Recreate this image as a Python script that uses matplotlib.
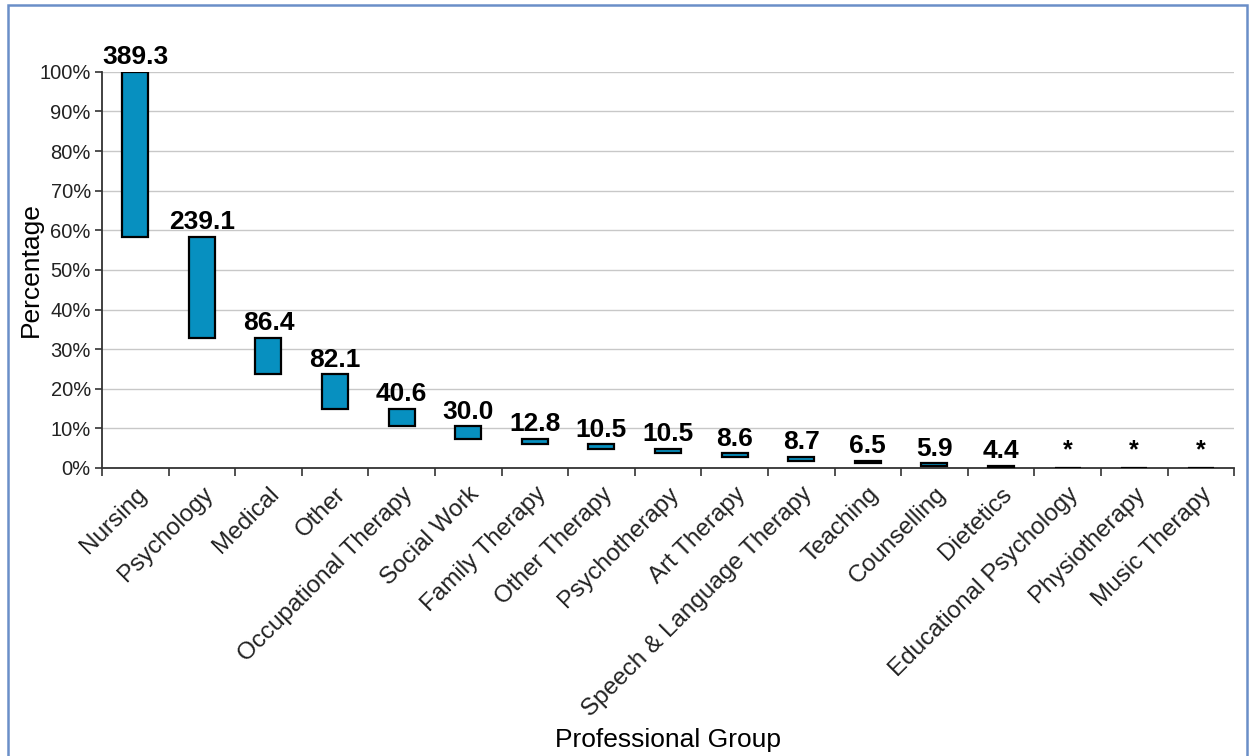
import matplotlib.pyplot as plt
import numpy as np
from matplotlib.patches import Rectangle

plt.rcParams['font.family'] = ['Liberation Sans', 'DejaVu Sans']

# professional groups and their values (the last three are suppressed, shown as *)
groups = ["Nursing", "Psychology", "Medical", "Other", "Occupational Therapy",
          "Social Work", "Family Therapy", "Other Therapy", "Psychotherapy",
          "Art Therapy", "Speech & Language Therapy", "Teaching", "Counselling",
          "Dietetics", "Educational Psychology", "Physiotherapy", "Music Therapy"]
values = [389.3, 239.1, 86.4, 82.1, 40.6, 30.0, 12.8, 10.5, 10.5, 8.6, 8.7,
          6.5, 5.9, 4.4, 0.3, 0.2, 0.0]
labels = ["389.3", "239.1", "86.4", "82.1", "40.6", "30.0", "12.8", "10.5",
          "10.5", "8.6", "8.7", "6.5", "5.9", "4.4", "*", "*", "*"]

vals = np.array(values)
share = vals / vals.sum()
tops = 1 - np.concatenate([[0], np.cumsum(share)[:-1]])
bottoms = tops - share

fig = plt.figure(figsize=(12.51, 7.56), dpi=100)
ax = fig.add_axes([0.0815, 0.381, 0.905, 0.524])

x = np.arange(len(groups))
ax.bar(x, share, bottom=bottoms, width=0.39, color="#0790C0",
       edgecolor="black", linewidth=1.6, zorder=3)

for xi, t, lab in zip(x, tops, labels):
    if lab == "*":
        ax.annotate(lab, (xi, t), xytext=(0, 4), textcoords="offset points",
                    ha="center", va="bottom", fontsize=18, fontweight="bold")
    else:
        ax.annotate(lab, (xi, t), xytext=(0, 2), textcoords="offset points",
                    ha="center", va="bottom", fontsize=19, fontweight="bold")

ax.set_xlim(-0.5, len(groups) - 0.5)
ax.set_ylim(0, 1)
ax.set_yticks(np.arange(0, 1.01, 0.1))
ax.set_yticklabels([f"{int(round(v * 100))}%" for v in np.arange(0, 1.01, 0.1)],
                   fontsize=14.5, color="#222222")
ax.yaxis.grid(True, color="#c8c8c8", linewidth=1.0, zorder=0)
ax.set_axisbelow(True)

ax.set_xticks(x)
ax.set_xticklabels(groups, rotation=45, ha="right", rotation_mode="anchor",
                   fontsize=17.5, color="#222222")
ax.tick_params(axis="x", which="major", length=0, pad=11)
ax.set_xticks(np.arange(-0.5, len(groups)), minor=True)
ax.tick_params(axis="x", which="minor", length=6, width=1.2, color="#333333")
ax.tick_params(axis="y", length=5, width=1.2, color="#333333", pad=3)

for side in ["top", "right"]:
    ax.spines[side].set_visible(False)
ax.spines["left"].set_color("#333333")
ax.spines["bottom"].set_color("#333333")
ax.spines["left"].set_linewidth(1.3)
ax.spines["bottom"].set_linewidth(1.3)

fig.text(31 / 1251, 1 - 270 / 756, "Percentage", rotation=90,
         ha="center", va="center", fontsize=19)
fig.text(0.534, 1 - 740 / 756, "Professional Group", ha="center", va="center",
         fontsize=19)

# blue frame round the chart
fig.patches.append(Rectangle((0.0065, -0.05), 0.9905, 1.043,
                             transform=fig.transFigure, fill=False,
                             edgecolor="#6a8fc8", linewidth=1.8))

fig.savefig("out.png", dpi=100)
